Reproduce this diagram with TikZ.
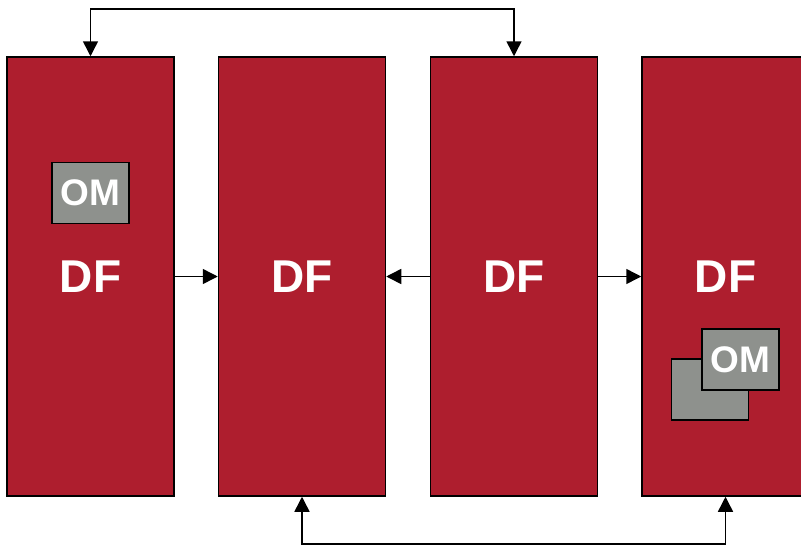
\documentclass[tikz,border=0pt]{standalone}
\usepackage{fontspec}
\setmainfont{Liberation Sans}
\usetikzlibrary{arrows.meta}

\definecolor{dfred}{HTML}{AE1E2E}
\definecolor{omgray}{HTML}{8E918D}

\tikzset{
  dfbox/.style={draw, line width=1.5pt, fill=dfred, text=white, minimum width=167pt, minimum height=439pt,
    inner sep=0pt, font=\bfseries\fontsize{46}{46}\selectfont},
  ombox/.style={draw, line width=1.5pt, fill=omgray, text=white, minimum width=77pt, minimum height=61pt,
    inner sep=0pt, font=\bfseries\fontsize{37}{37}\selectfont},
  link/.style={line width=1.5pt, -{Triangle[length=15pt,width=15pt]}},
  dlink/.style={line width=1.5pt, {Triangle[length=15pt,width=15pt]}-{Triangle[length=15pt,width=15pt]}}
}

\begin{document}
\begin{tikzpicture}[x=1pt,y=-1pt]

\useasboundingbox (0,0) rectangle (801,547);

\node[dfbox] (df1) at (90.5,276.5) {DF};
\node[dfbox] (df2) at (302,276.5)  {DF};
\node[dfbox] (df3) at (514,276.5)  {DF};
\node[dfbox] (df4) at (725.5,276.5) {DF};

\node[ombox] (om1) at (90.5,193) {OM};
\node[ombox] (om4b) at (710,389.5) {};
\node[ombox] (om4) at (740.5,359.5) {OM};

\draw[link] (df1.east) -- (df2.west);
\draw[link] (df3.west) -- (df2.east);
\draw[link] (df3.east) -- (df4.west);

\draw[dlink] (df1.north) -- ++(0,-47.5) -| (df3.north);
\draw[dlink] (df2.south) -- ++(0,47) -| (df4.south);

\end{tikzpicture}
\end{document}
